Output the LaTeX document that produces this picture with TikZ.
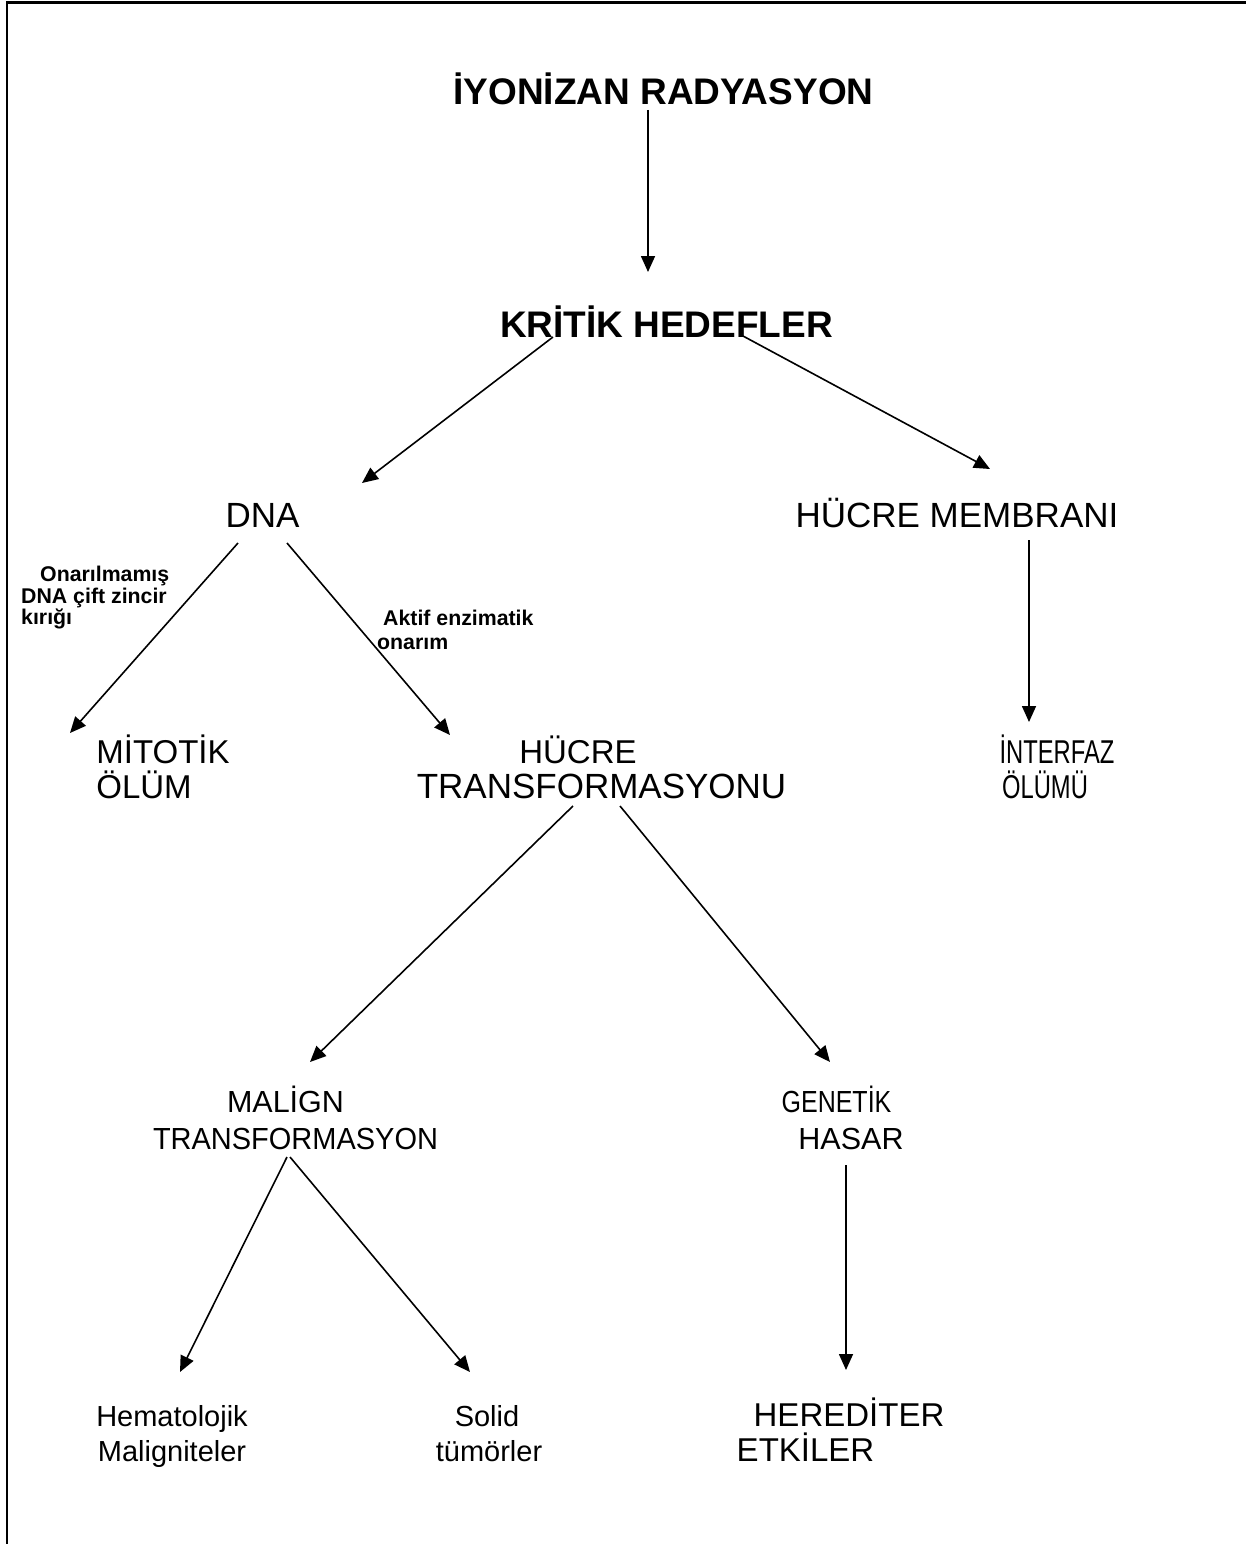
\documentclass[tikz,border=0pt]{standalone}
\usepackage{fontspec}
\setmainfont{Liberation Sans}
\usetikzlibrary{arrows.meta}
\begin{document}
\begin{tikzpicture}[x=1pt,y=-1pt,
  arr/.style={-{Triangle[length=16pt,width=14pt]}, line width=1.6pt},
  bigt/.style={font=\fontsize{37}{40}\selectfont\bfseries, inner sep=0pt, anchor=base},
  regt/.style={font=\fontsize{35}{36}\selectfont, inner sep=0pt, anchor=base},
  midt/.style={font=\fontsize{33}{36}\selectfont, inner sep=0pt, anchor=base},
  lowt/.style={font=\fontsize{30.5}{34}\selectfont, inner sep=0pt, anchor=base},
  smallt/.style={font=\fontsize{29}{34}\selectfont, inner sep=0pt, anchor=base},
  lab/.style={font=\fontsize{21.3}{22}\selectfont\bfseries, inner sep=0pt, anchor=base west}]
\useasboundingbox (0,0) rectangle (1246,1544);
\draw[line width=2.8pt] (7,1544) -- (7,2.5) -- (1246,2.5);

% texts
\node[bigt] (title) at (663.5,105) {İYONİZAN RADYASYON};
\node[bigt] (krit) at (666.5,337) {KRİTİK HEDEFLER};
\node[regt] (dna) at (262.5,527) {DNA};
\node[regt] (hm) at (957,527) {HÜCRE MEMBRANI};

\node[midt] (mit1) at (163,763) {MİTOTİK};
\node[midt] (mit2) at (144,798) {ÖLÜM};
\node[midt] (ht1) at (578,763) {HÜCRE};
\node[regt] (ht2) at (601.5,798) {TRANSFORMASYONU};
\node[midt] (int1) at (1057,763) {\scalebox{0.72}[1]{İNTERFAZ}};
\node[midt] (int2) at (1045,798) {\scalebox{0.72}[1]{ÖLÜMÜ}};
\node[lowt] (mal1) at (285.5,1112) {MALİGN};
\node[lowt] (mal2) at (295.5,1149) {\scalebox{0.95}[1]{TRANSFORMASYON}};
\node[lowt] (gen1) at (836.5,1112) {\scalebox{0.82}[1]{GENETİK}};
\node[lowt] (gen2) at (851,1149) {HASAR};
\node[smallt] (hem1) at (172,1426) {Hematolojik};
\node[smallt] (hem2) at (172,1461) {Maligniteler};
\node[smallt] (sol1) at (487,1426) {Solid};
\node[smallt] (sol2) at (489,1461) {tümörler};
\node[midt] (her1) at (849,1426) {HEREDİTER};
\node[midt] (her2) at (805.5,1461) {ETKİLER};

\node[lab] (on1) at (40,581) {Onarılmamış};
\node[lab] (on2) at (21,603) {DNA çift zincir};
\node[lab] (on3) at (21,624) {kırığı};
\node[lab] (ak1) at (383,625) {Aktif enzimatik};
\node[lab] (ak2) at (377,649) {onarım};

% connector end points
\coordinate (a1s) at (648,110);  \coordinate (a1e) at (648,272);
\coordinate (a2s) at (553,337);  \coordinate (a2e) at (362,483);
\coordinate (a3s) at (743,336);  \coordinate (a3e) at (990,469);
\coordinate (a4s) at (238,543);  \coordinate (a4e) at (70,733);
\coordinate (a5s) at (287,543);  \coordinate (a5e) at (450,735);
\coordinate (a6s) at (1029,540); \coordinate (a6e) at (1029,722);
\coordinate (a7s) at (573,806);  \coordinate (a7e) at (310,1062);
\coordinate (a8s) at (620,806);  \coordinate (a8e) at (830,1062);
\coordinate (a9s) at (287,1157); \coordinate (a9e) at (180,1372);
\coordinate (a10s) at (290,1157); \coordinate (a10e) at (470,1372);
\coordinate (a11s) at (846,1165); \coordinate (a11e) at (846,1370);

\draw[arr] (a1s) -- (a1e);
\draw[arr] (a2s) -- (a2e);
\draw[arr] (a3s) -- (a3e);
\draw[arr] (a4s) -- (a4e);
\draw[arr] (a5s) -- (a5e);
\draw[arr] (a6s) -- (a6e);
\draw[arr] (a7s) -- (a7e);
\draw[arr] (a8s) -- (a8e);
\draw[arr] (a9s) -- (a9e);
\draw[arr] (a10s) -- (a10e);
\draw[arr] (a11s) -- (a11e);
\end{tikzpicture}
\end{document}
